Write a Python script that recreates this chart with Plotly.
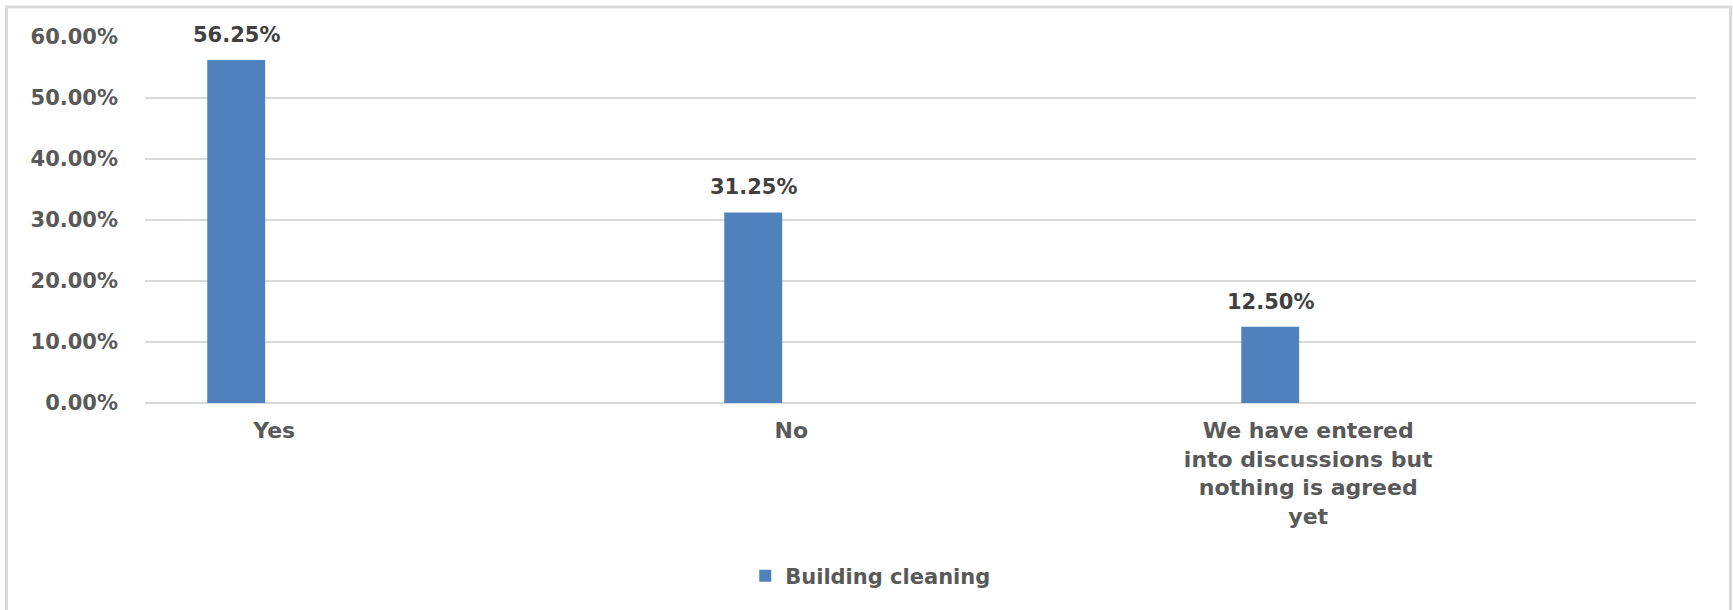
import plotly.graph_objects as go

# ---- data ----
categories = ["Yes", "No", "We have entered into discussions but nothing is agreed yet"]
tick_labels = ["Yes", "No", "We have entered<br>into discussions but<br>nothing is agreed<br>yet"]
values = [0.5625, 0.3125, 0.125]
value_labels = ["56.25%", "31.25%", "12.50%"]
series_name = "Building cleaning"
y_ticks = [0, 0.1, 0.2, 0.3, 0.4, 0.5, 0.6]

BAR_COLOR = "#4F81BD"
GRID = "#D9D9D9"
FONT = "DejaVu Sans"

bar_offset = -0.1296
bar_width = 0.112

fig = go.Figure()
fig.add_trace(go.Bar(
    x=categories, y=values, name=series_name,
    marker=dict(color=BAR_COLOR, line=dict(width=0)),
    offset=bar_offset, width=bar_width,
    showlegend=True,
))

for c, v, t in zip(categories, values, value_labels):
    fig.add_annotation(
        x=c, y=v, text=t, showarrow=False,
        xshift=-38, yshift=25, yanchor="middle", xanchor="center",
        font=dict(family=FONT, size=21, color="#404040", weight="bold"),
    )

# chart border
fig.add_shape(type="rect", xref="paper", yref="paper",
              x0=-0.0893, x1=1.0223, y0=-0.62, y1=1.082,
              line=dict(color=GRID, width=3), fillcolor="rgba(0,0,0,0)", layer="below")

fig.update_layout(
    width=1733, height=610,
    margin=dict(l=145, r=37, t=37, b=207),
    paper_bgcolor="white", plot_bgcolor="white",
    showlegend=True,
    legend=dict(orientation="h", x=0.387, xanchor="left", y=-0.473, yanchor="middle",
                font=dict(family=FONT, size=21, color="#595959", weight="bold"),
                bgcolor="rgba(0,0,0,0)"),
    xaxis=dict(
        type="category", range=[-0.25, 2.75],
        tickmode="array", tickvals=categories, ticktext=tick_labels,
        showgrid=False, zeroline=False, showline=False, ticks="",
        tickfont=dict(family=FONT, size=22, color="#595959", weight="bold"),
        ticklabelstandoff=12,
    ),
    yaxis=dict(
        range=[0, 0.6], tickmode="array", tickvals=y_ticks, tickformat=".2%",
        showgrid=True, gridcolor=GRID, gridwidth=2,
        zeroline=True, zerolinecolor=GRID, zerolinewidth=2,
        showline=False, ticks="",
        tickfont=dict(family=FONT, size=21, color="#595959", weight="bold"),
        ticklabelstandoff=26,
    ),
)

fig.write_html(
    "out.html",
    config={"displayModeBar": False},
    post_script="document.body.style.margin='0';document.body.style.overflow='hidden';",
)
